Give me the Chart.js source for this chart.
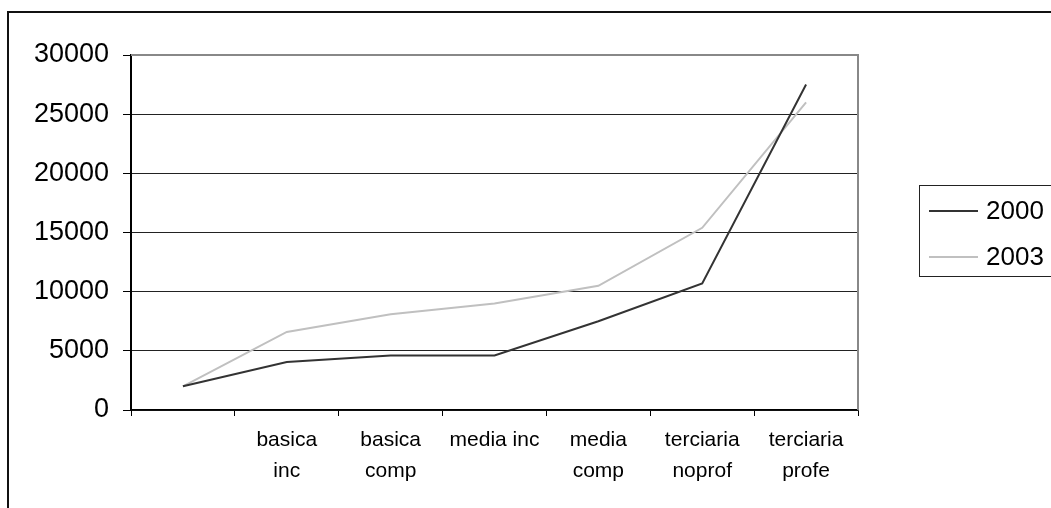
<!DOCTYPE html>
<html>
<head>
<meta charset="utf-8">
<script src="https://cdn.jsdelivr.net/npm/chart.js@4/dist/chart.umd.min.js"></script>
<style>
  html, body { margin: 0; padding: 0; background: #fff; overflow: hidden; }
  canvas { display: block; }
</style>
</head>
<body>
<canvas id="c" width="1051" height="508"></canvas>
<script>
// Education levels (first slot has no label)
const categories = [
  '',
  ['basica', 'inc'],
  ['basica', 'comp'],
  'media inc',
  ['media', 'comp'],
  ['terciaria', 'noprof'],
  ['terciaria', 'profe']
];
const seriesNames = ['2000', '2003'];
const values2000 = [2000, 4050, 4600, 4600, 7500, 10700, 27500];
const values2003 = [2000, 6600, 8100, 9000, 10500, 15400, 26000];
const yTicks = [0, 5000, 10000, 15000, 20000, 25000, 30000];

const FONT = '"Liberation Sans", Arial, sans-serif';

// Outer frame, gray plot border (top/right) and the boxed legend
const decorations = {
  id: 'decorations',
  afterDraw(chart) {
    const ctx = chart.ctx;
    const a = chart.chartArea;
    ctx.save();
    // plot border on top and right
    ctx.strokeStyle = '#888888';
    ctx.lineWidth = 2;
    ctx.beginPath();
    ctx.moveTo(a.left, a.top);
    ctx.lineTo(a.right, a.top);
    ctx.lineTo(a.right, a.bottom);
    ctx.stroke();

    // outer frame
    ctx.strokeStyle = '#111111';
    ctx.lineWidth = 2;
    ctx.beginPath();
    ctx.moveTo(8, 600);
    ctx.lineTo(8, 12);
    ctx.lineTo(1100, 12);
    ctx.stroke();

    // legend
    ctx.lineWidth = 1;
    ctx.strokeStyle = '#222222';
    ctx.strokeRect(919.5, 185.5, 200, 91);
    const rows = [211, 257];
    chart.data.datasets.forEach((ds, i) => {
      ctx.strokeStyle = ds.borderColor;
      ctx.lineWidth = 2;
      ctx.beginPath();
      ctx.moveTo(929, rows[i]);
      ctx.lineTo(978, rows[i]);
      ctx.stroke();
      ctx.fillStyle = '#000';
      ctx.font = '26px ' + FONT;
      ctx.textBaseline = 'middle';
      ctx.textAlign = 'left';
      ctx.fillText(ds.label, 986, rows[i] + 1);
    });
    ctx.restore();
  }
};

new Chart(document.getElementById('c'), {
  type: 'line',
  data: {
    labels: categories,
    datasets: [
      {
        label: seriesNames[0],
        data: values2000,
        borderColor: '#333333',
        borderWidth: 2,
        pointRadius: 0,
        tension: 0,
        fill: false
      },
      {
        label: seriesNames[1],
        data: values2003,
        borderColor: '#c0c0c0',
        borderWidth: 2,
        pointRadius: 0,
        tension: 0,
        fill: false
      }
    ]
  },
  options: {
    responsive: false,
    animation: false,
    layout: { padding: { top: 55, right: 193, left: 0, bottom: 0 } },
    plugins: {
      legend: { display: false },
      tooltip: { enabled: false }
    },
    scales: {
      x: {
        offset: true,
        grid: {
          offset: true,
          drawOnChartArea: false,
          drawTicks: true,
          tickLength: 6,
          color: '#000'
        },
        border: { color: '#000', width: 1.5 },
        ticks: {
          autoSkip: false,
          maxRotation: 0,
          minRotation: 0,
          padding: 8,
          color: '#000',
          font: { family: FONT, size: 21, lineHeight: 1.5 }
        },
        afterFit(scale) { scale.height = 98; }
      },
      y: {
        min: 0,
        max: 30000,
        afterBuildTicks(scale) {
          scale.ticks = yTicks.map(v => ({ value: v }));
        },
        grid: {
          color: '#222222',
          lineWidth: 1,
          drawTicks: true,
          tickLength: 8,
          tickColor: '#000'
        },
        border: { color: '#000', width: 2 },
        ticks: {
          padding: 14,
          color: '#000',
          font: { family: FONT, size: 27 },
          callback: v => String(v)
        },
        afterFit(scale) { scale.width = 131; }
      }
    }
  },
  plugins: [decorations]
});
</script>
</body>
</html>
